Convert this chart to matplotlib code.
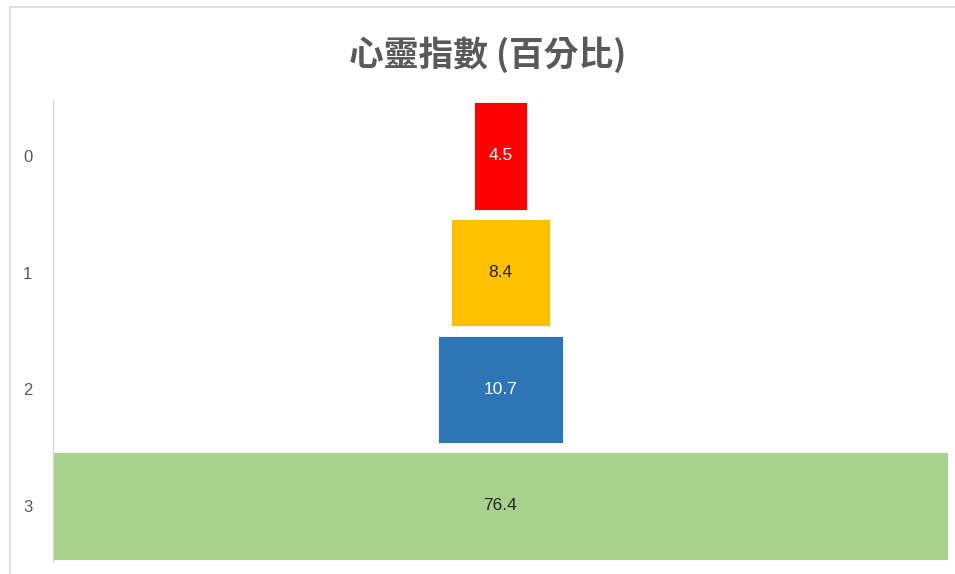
import numpy as np
import matplotlib.pyplot as plt
from matplotlib.patches import Rectangle

plt.rcParams['font.family'] = ['Noto Sans CJK TC', 'DejaVu Sans']

categories = ['0', '1', '2', '3']
values = [4.5, 8.4, 10.7, 76.4]
colors = ['#FF0000', '#FFC000', '#2E75B6', '#A9D18E']
label_colors = ['white', '#262626', 'white', '#262626']

fig = plt.figure(figsize=(9.55, 5.74), dpi=100)
ax = fig.add_axes([53 / 955, 1 - 562 / 574, 895 / 955, 462 / 574])

y = np.arange(len(categories))
vals = np.array(values)
ax.barh(y, vals, left=-vals / 2, height=0.92, color=colors,
        edgecolor='white', linewidth=0.6)
for yi, v, c in zip(y, values, label_colors):
    ax.text(0, yi, f'{v}', ha='center', va='center', fontsize=12.5, color=c,
            family=['Liberation Sans', 'DejaVu Sans'])

half = max(values) / 2
ax.set_xlim(-half, half)
ax.set_ylim(3.48, -0.48)
ax.set_yticks(y)
ax.set_yticklabels(categories, fontsize=12, color='#595959',
                   family=['Liberation Sans', 'DejaVu Sans'])
ax.tick_params(axis='y', length=0, pad=15)
ax.set_xticks([])
for s in ['top', 'right', 'bottom']:
    ax.spines[s].set_visible(False)
ax.spines['left'].set_color('#D9D9D9')
ax.spines['left'].set_linewidth(1)

fig.text(488 / 955, 1 - 55 / 574, '心靈指數 (百分比)', ha='center', va='center',
         fontsize=25, fontweight='bold', color='#595959')

# chart area border
fig.patches.append(Rectangle((10 / 955, -0.1), 1.1, 1 - 7 / 574 + 0.1,
                             transform=fig.transFigure, fill=False,
                             edgecolor='#D9D9D9', linewidth=1.2))

fig.savefig('out.png', dpi=100)
